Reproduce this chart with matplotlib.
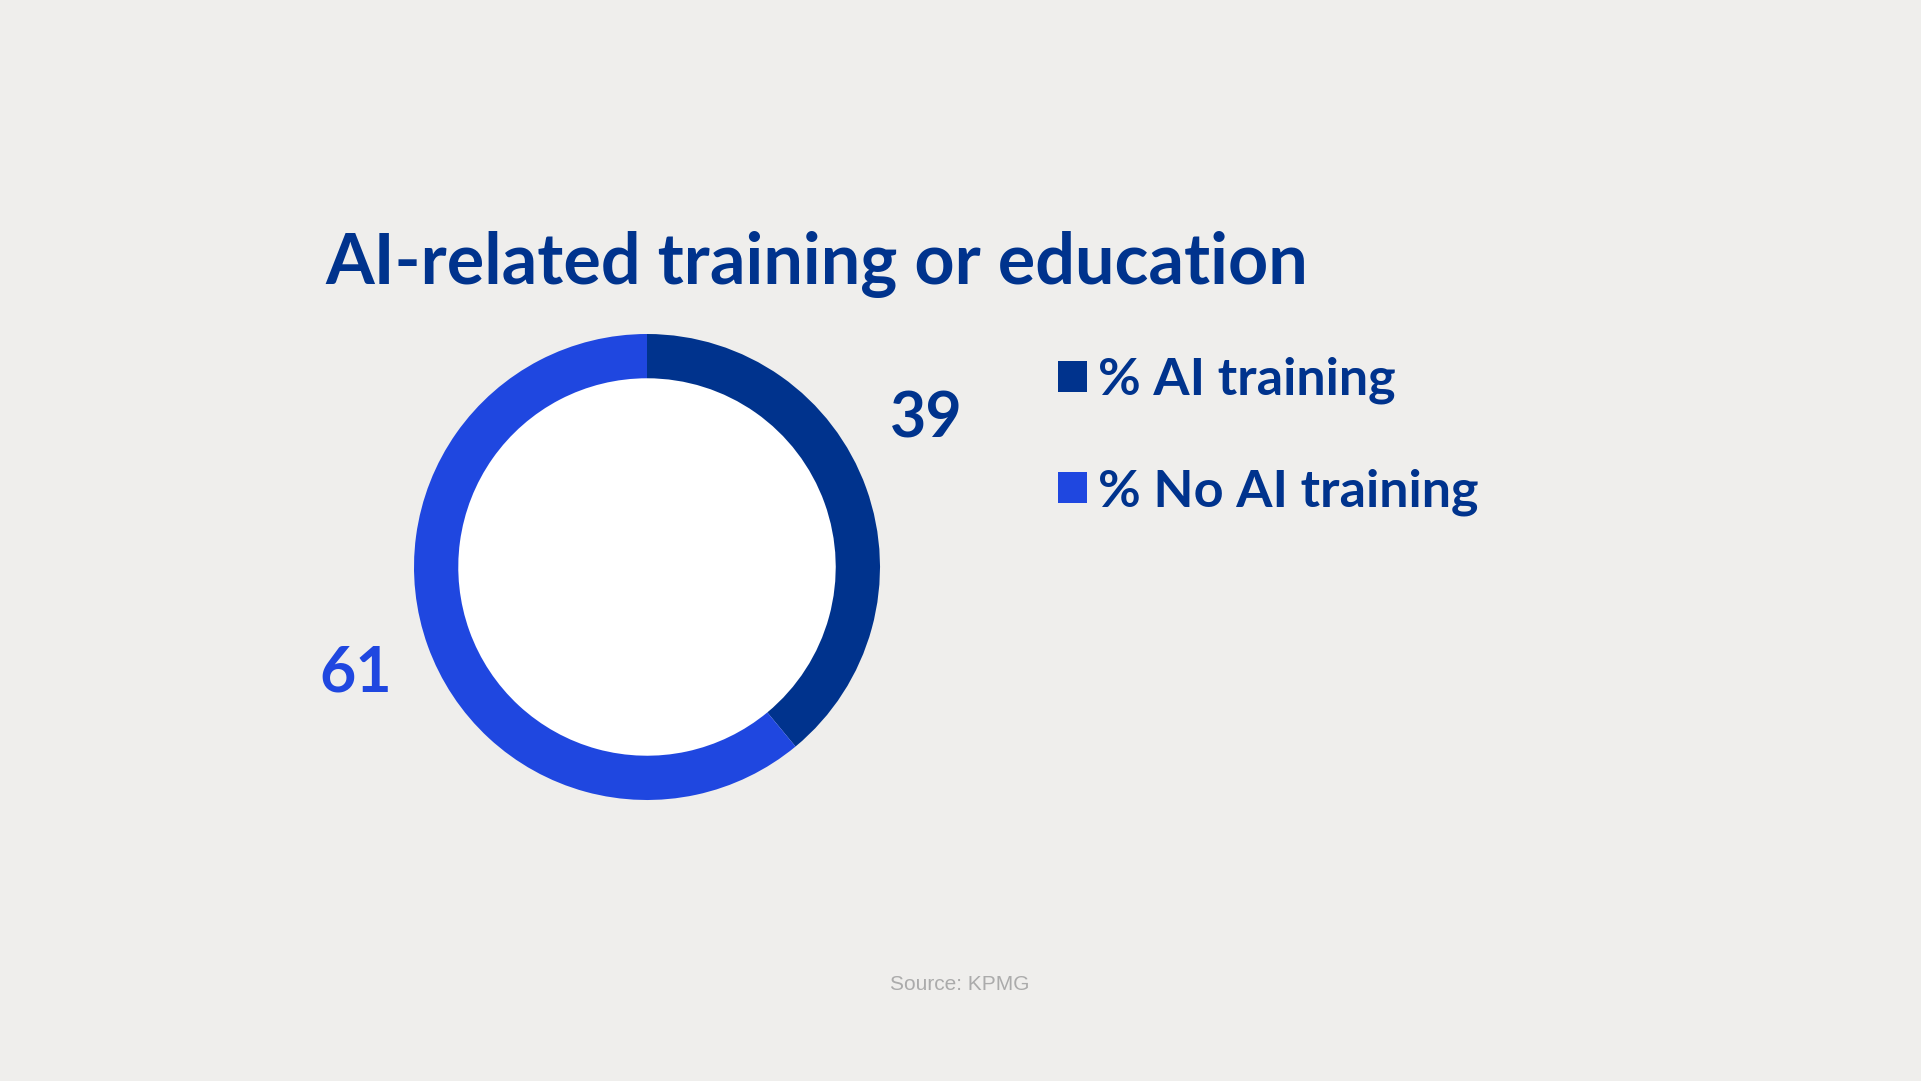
import matplotlib
matplotlib.use('Agg')
import matplotlib.pyplot as plt

# data
labels = ['% AI training', '% No AI training']
values = [39, 61]
colors = ['#00338D', '#1F47E0']

W, H = 1921, 1081
BG = '#EFEEEC'
NAVY = '#00338D'


def draw():
    fig = plt.figure(figsize=(W / 100, H / 100), dpi=100, facecolor=BG)
    ax = fig.add_axes([0, 0, 1, 1])
    ax.set_facecolor(BG)

    # donut, centre and radius in pixels (y from bottom)
    cx, cy, r = 647, H - 567, 233
    wedges, _ = ax.pie(values, colors=colors, startangle=90, counterclock=False,
                       center=(cx, cy), radius=r,
                       wedgeprops=dict(width=r * 0.19, edgecolor='none'))
    # white hole
    hole = plt.Circle((cx, cy), r * 0.81, color='white', zorder=0)
    ax.add_patch(hole)

    ax.set_xlim(0, W)
    ax.set_ylim(0, H)
    ax.set_aspect('equal')
    ax.axis('off')

    fam = ['Lato', 'DejaVu Sans']
    ax.text(325, H - 284, 'AI-related training or education', fontsize=50.5,
            fontweight='bold', color=NAVY, family=fam, ha='left', va='baseline')

    ax.text(926, H - 419, str(values[0]), fontsize=45, fontweight='bold',
            color=colors[0], family=fam, ha='center', va='center')
    ax.text(356, H - 674, str(values[1]), fontsize=45, fontweight='bold',
            color=colors[1], family=fam, ha='center', va='center')

    leg = ax.legend(wedges, labels, loc='upper left',
                    bbox_to_anchor=(1058, H - 357), bbox_transform=ax.transData,
                    frameon=False, handlelength=0.56, handleheight=0.56,
                    handletextpad=0.2, labelspacing=1.22, borderpad=0,
                    borderaxespad=0,
                    prop=dict(family=fam, weight='bold', size=37.5))
    for t in leg.get_texts():
        t.set_color(NAVY)

    ax.text(960, H - 985, 'Source: KPMG', fontsize=15, color='#ABABAB',
            family=['Liberation Sans', 'DejaVu Sans'], ha='center', va='center')

    fig.savefig('out.png', dpi=100, facecolor=BG)


if __name__ == "__main__":
    draw()
